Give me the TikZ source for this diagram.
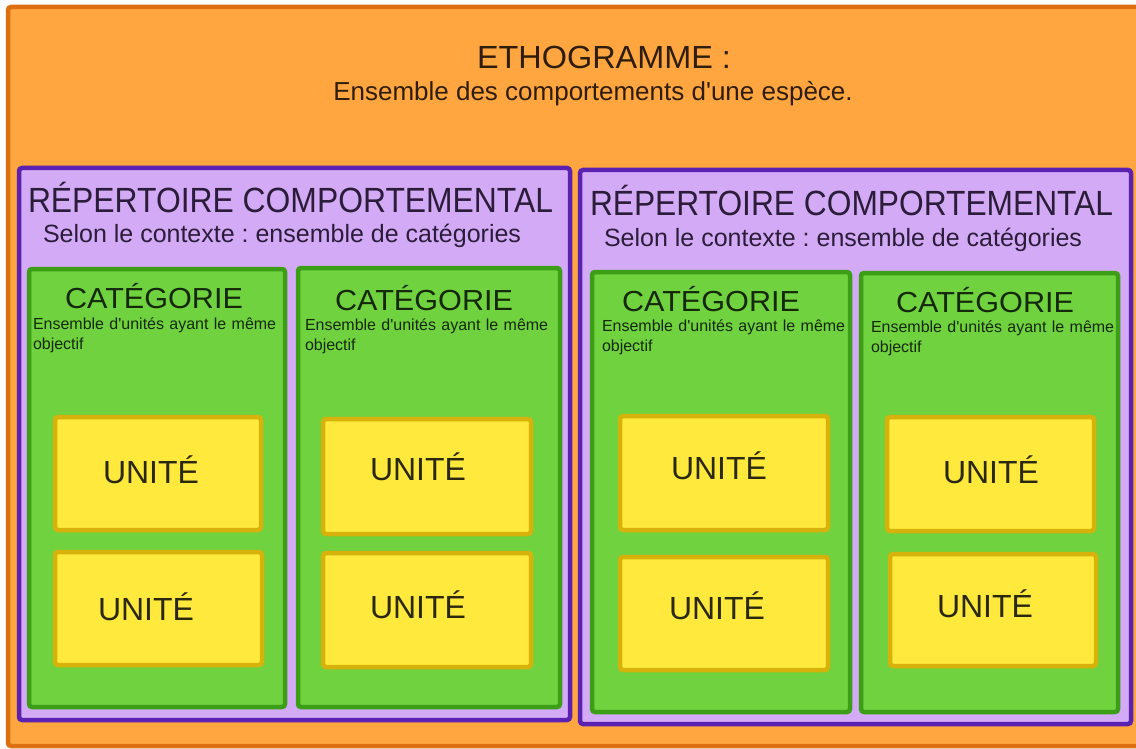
\documentclass[tikz,border=0pt]{standalone}
\usepackage{fontspec}
\usepackage{graphicx}
\setmainfont{Liberation Sans}
\frenchspacing

\definecolor{orfill}{HTML}{FFA641}
\definecolor{ordraw}{HTML}{DC7010}
\definecolor{ortext}{HTML}{2E1D0A}
\definecolor{pufill}{HTML}{D3AAF5}
\definecolor{pudraw}{HTML}{5B22B2}
\definecolor{putext}{HTML}{2B1D3A}
\definecolor{grfill}{HTML}{70D23F}
\definecolor{grdraw}{HTML}{3C9E16}
\definecolor{grtext}{HTML}{15290A}
\definecolor{yefill}{HTML}{FFE93C}
\definecolor{yedraw}{HTML}{D6B20A}
\definecolor{yetext}{HTML}{2B2810}

% stretch a text horizontally to a given width (in pt), keeping its height
\newcommand\wfit[2]{\resizebox{#1pt}{\height}{#2}}
% a box given by its two corners
\newcommand\panel[6]{%
  \node[#2, minimum width={(#5-#3)*1pt}, minimum height={(#6-#4)*1pt}]
    (#1) at ({(#3+#5)/2},{(#4+#6)/2}) {};}
\newcommand\apos{\textquotesingle}

\tikzset{
  boxbase/.style={rectangle, inner sep=0pt, outer sep=0pt, line width=4.5pt, rounded corners=3pt},
  ethobox/.style={boxbase, fill=orfill, draw=ordraw},
  repbox/.style={boxbase, fill=pufill, draw=pudraw},
  catbox/.style={boxbase, fill=grfill, draw=grdraw},
  unitbox/.style={boxbase, fill=yefill, draw=yedraw},
  lbl/.style={inner sep=0pt, outer sep=0pt, anchor=base west},
  ethotitle/.style={lbl, anchor=base, text=ortext, font=\fontsize{32}{38}\selectfont},
  ethosub/.style={lbl, anchor=base, text=ortext, font=\fontsize{26}{31}\selectfont},
  reptitle/.style={lbl, text=putext, font=\fontsize{35}{42}\selectfont},
  repsub/.style={lbl, text=putext, font=\fontsize{25}{30}\selectfont},
  cattitle/.style={lbl, text=grtext, font=\fontsize{29}{35}\selectfont},
  catsub/.style={inner sep=0pt, outer sep=0pt, anchor=north west, text=grtext,
    align=left, text width=252pt, font=\fontsize{16}{20}\selectfont},
  unitlbl/.style={lbl, text=yetext, font=\fontsize{32}{38}\selectfont},
}

\begin{document}
\begin{tikzpicture}[x=1pt, y=-1pt]
\useasboundingbox (0,0) rectangle (1136,749);
\clip (0,0) rectangle (1136,749);

% whole ethogram
\panel{etho}{ethobox}{8}{7}{1148}{746}
\node[ethotitle] (ethoT) at (604,69) {\wfit{254}{ETHOGRAMME :}};
\node[ethosub] (ethoS) at (593,101) {Ensemble des comportements d\apos une espèce.};

% two behavioural repertoires
\panel{repA}{repbox}{19}{168}{570}{720}
\panel{repB}{repbox}{580}{170}{1131}{724}
\node[reptitle] (repAT) at (28,213) {\wfit{525}{RÉPERTOIRE COMPORTEMENTAL}};
\node[reptitle] (repBT) at (590,215) {\wfit{523}{RÉPERTOIRE COMPORTEMENTAL}};
\node[repsub] (repAS) at (43,243) {Selon le contexte : ensemble de catégories};
\node[repsub] (repBS) at (604,246) {Selon le contexte : ensemble de catégories};

% categories
\panel{catA}{catbox}{29}{269}{285}{707}
\panel{catB}{catbox}{298}{268}{560}{707}
\panel{catC}{catbox}{592}{272}{850}{712}
\panel{catD}{catbox}{861}{273}{1118}{712}

\node[cattitle] (catAT) at (65,308) {\wfit{178}{CATÉGORIE}};
\node[cattitle] (catBT) at (335,310) {\wfit{178}{CATÉGORIE}};
\node[cattitle] (catCT) at (622,311) {\wfit{178}{CATÉGORIE}};
\node[cattitle] (catDT) at (896,312) {\wfit{178}{CATÉGORIE}};

\node[catsub] (catAS) at (33,318) {Ensemble d\apos unités ayant le même objectif};
\node[catsub] (catBS) at (305,319) {Ensemble d\apos unités ayant le même objectif};
\node[catsub] (catCS) at (602,320) {Ensemble d\apos unités ayant le même objectif};
\node[catsub] (catDS) at (871,321) {Ensemble d\apos unités ayant le même objectif};

% units
\panel{uA1}{unitbox}{55}{417}{261}{530}
\panel{uA2}{unitbox}{55}{552}{262}{665}
\panel{uB1}{unitbox}{323}{419}{531}{534}
\panel{uB2}{unitbox}{323}{553}{531}{667}
\panel{uC1}{unitbox}{620}{416}{828}{530}
\panel{uC2}{unitbox}{620}{557}{828}{670}
\panel{uD1}{unitbox}{887}{417}{1094}{531}
\panel{uD2}{unitbox}{890}{554}{1096}{666}

\node[unitlbl] (uA1T) at (103,483) {UNITÉ};
\node[unitlbl] (uA2T) at (98,620) {UNITÉ};
\node[unitlbl] (uB1T) at (370,480) {UNITÉ};
\node[unitlbl] (uB2T) at (370,618) {UNITÉ};
\node[unitlbl] (uC1T) at (671,479) {UNITÉ};
\node[unitlbl] (uC2T) at (669,619) {UNITÉ};
\node[unitlbl] (uD1T) at (943,483) {UNITÉ};
\node[unitlbl] (uD2T) at (937,617) {UNITÉ};
\end{tikzpicture}
\end{document}
